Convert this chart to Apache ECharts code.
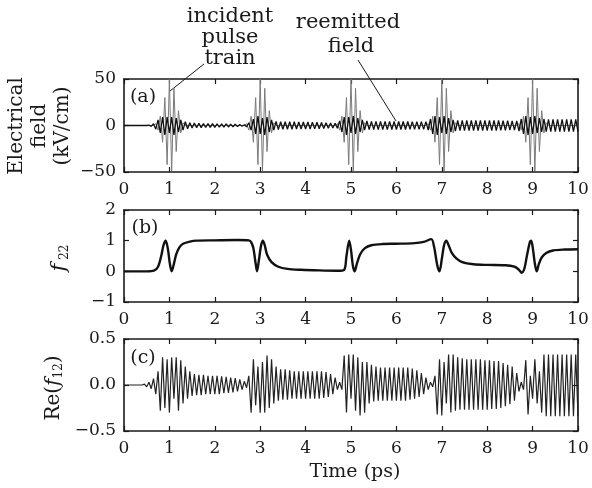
<!DOCTYPE html>
<html>
<head>
<meta charset="utf-8">
<script src="https://cdn.jsdelivr.net/npm/echarts@6/dist/echarts.min.js"></script>
<style>
  html, body { margin: 0; padding: 0; background: #fff; }
  #chart { width: 592px; height: 488px; }
</style>
</head>
<body>
<div id="chart"></div>
<script>
// time step (ps) between successive extrema of the sampled oscillations
const dt = 0.05;

// (a) incident pulse train: same pulse at each centre
const pulseCenters = [1, 3, 5, 7, 9];
const pulseOffsets = [-0.35, -0.3, -0.25, -0.2, -0.15, -0.1, -0.05, 0, 0.05, 0.1, 0.15, 0.2, 0.25, 0.3, 0.35];
const pulseShape = [0, 2, -5, 10, -18, 30, -42, 50, -49, 40, -28, 16, -8, 3, 0];

// (a) reemitted field (kV/cm), one value every dt
const reemitted = [
  0, 0, 0, 0, 0, 0, 0, 0, 0, 0, 0, 0.5, -1, 2, -4, 6, -8, 9, -10, 9,
  -8, 9, -10, 8, -7, 6, -5, 4, -3.5, 3, -2.8, 2.6, -2.5, 2.4, -2.3, 2.2, -2.2, 2.1, -2, 2,
  -2, 1.9, -1.9, 1.8, -1.8, 1.7, -1.6, 1.5, -1.4, 1.3, -1.2, 1, -0.8, 0.8, -1.5, 3, -5, 7, -9, 10,
  -9, 8, -10, 9, -7, 6, -5, 4.5, -4.5, 4, -4, 4, -4, 4, -4, 4, -3.8, 3.8, -3.8, 3.8,
  -3.8, 3.7, -3.7, 3.6, -3.6, 3.5, -3.4, 3.3, -3.2, 3, -3, 2.8, -2.6, 2.5, -3, 5, -7, 9, -10, 9,
  -8, 10, -9, 8, -7, 6, -5, 5, -4.5, 4.5, -4.5, 4.5, -4.5, 4.5, -4.4, 4.4, -4.4, 4.4, -4.3, 4.3,
  -4.3, 4.3, -4.3, 4.3, -4.3, 4.3, -4.2, 4.2, -4.2, 4.2, -4.2, 4.2, -4.2, 4.2, -5, 7, -9, 10, -10, 9,
  -8, 10, -9, 8, -7, 6, -6, 5.5, -5.5, 5.5, -5.5, 5.5, -5.5, 5.5, -5.5, 5.5, -5.5, 5.5, -5.5, 5.5,
  -5.5, 5.5, -5.5, 5.5, -5.5, 5.5, -5.3, 5.3, -5.2, 5.2, -5, 5, -5, 5, -6, 7, -9, 10, -10, 9,
  -9, 10, -8, 8, -7, 7, -6.5, 6.5, -6.5, 6.5, -6.5, 6.5, -6.5, 6.5, -6.5, 6.5, -6.5, 6.5, -6.5, 6.5,
  -6.5
];

// (b) f22 population
const tF = [0, 0.5, 0.66, 0.75, 0.82, 0.87, 0.92, 0.97, 1.01, 1.05, 1.1, 1.15, 1.22, 1.3, 1.45, 1.6, 2.0, 2.5, 2.75, 2.8,
  2.85, 2.9, 2.93, 2.97, 3.02, 3.06, 3.1, 3.15, 3.25, 3.4, 3.6, 3.9, 4.3, 4.7, 4.85, 4.9, 4.96, 5.0, 5.04, 5.08,
  5.13, 5.2, 5.3, 5.45, 5.7, 6.0, 6.4, 6.6, 6.77, 6.83, 6.9, 6.95, 7.0, 7.05, 7.1, 7.15, 7.22, 7.32, 7.45, 7.7,
  8.0, 8.4, 8.6, 8.7, 8.76, 8.82, 8.88, 8.94, 8.97, 9.01, 9.05, 9.09, 9.14, 9.2, 9.3, 9.45, 9.7, 10];
const fF = [0, 0, 0.02, 0.15, 0.5, 0.85, 1.0, 0.7, 0.25, 0.0, 0.25, 0.55, 0.78, 0.9, 0.97, 1.0, 1.01, 1.02, 1.01, 0.95,
  0.75, 0.25, 0.0, 0.35, 0.85, 1.0, 0.85, 0.55, 0.3, 0.15, 0.08, 0.05, 0.03, 0.02, 0.05, 0.5, 1.0, 0.7, 0.2, 0.0,
  0.25, 0.55, 0.75, 0.85, 0.89, 0.9, 0.92, 0.96, 1.05, 0.8, 0.2, 0.0, 0.4, 0.85, 1.0, 0.85, 0.6, 0.42, 0.3, 0.23,
  0.21, 0.2, 0.15, 0.05, -0.05, 0.1, 0.55, 0.95, 1.0, 0.7, 0.25, 0.0, 0.25, 0.45, 0.6, 0.68, 0.71, 0.72];

// (c) Re(f12), one value every dt
const reF12 = [
  0, 0, 0, 0, 0, 0, 0, 0, 0, 0.01, -0.02, 0.03, -0.04, 0.07, -0.1, 0.15, -0.28, 0.3, -0.25, 0.28,
  -0.3, 0.3, -0.15, 0.3, -0.28, 0.27, -0.2, 0.2, -0.15, 0.15, -0.12, 0.12, -0.11, 0.11, -0.11, 0.11, -0.1, 0.1, -0.1, 0.1,
  -0.1, 0.1, -0.1, 0.095, -0.09, 0.09, -0.085, 0.08, -0.08, 0.075, -0.07, 0.06, -0.05, 0.04, -0.03, 0.1, -0.3, 0.28, -0.22, 0.2,
  -0.3, 0.25, -0.3, 0.32, -0.25, 0.28, -0.2, 0.2, -0.17, 0.17, -0.16, 0.17, -0.16, 0.16, -0.15, 0.15, -0.15, 0.15, -0.15, 0.15,
  -0.15, 0.15, -0.15, 0.15, -0.15, 0.15, -0.15, 0.15, -0.14, 0.14, -0.13, 0.12, -0.1, 0.08, -0.05, 0.03, -0.05, 0.32, -0.3, 0.33,
  -0.15, 0.33, -0.28, 0.3, -0.33, 0.25, -0.3, 0.25, -0.2, 0.22, -0.18, 0.2, -0.17, 0.19, -0.17, 0.19, -0.17, 0.19, -0.17, 0.19,
  -0.17, 0.19, -0.17, 0.19, -0.17, 0.19, -0.16, 0.18, -0.15, 0.16, -0.13, 0.13, -0.1, 0.08, -0.05, 0.03, -0.02, 0.1, -0.32, 0.28,
  -0.33, 0.25, -0.2, 0.33, -0.3, 0.33, -0.28, 0.3, -0.27, 0.29, -0.27, 0.28, -0.27, 0.28, -0.27, 0.28, -0.27, 0.28, -0.27, 0.27,
  -0.27, 0.27, -0.26, 0.26, -0.26, 0.26, -0.25, 0.24, -0.23, 0.22, -0.21, 0.2, -0.17, 0.13, -0.07, 0.03, -0.05, 0.27, -0.32, 0.1,
  -0.15, 0.28, -0.2, 0.15, -0.3, 0.33, -0.34, 0.33, -0.34, 0.33, -0.34, 0.33, -0.34, 0.33, -0.34, 0.33, -0.34, 0.33, -0.34, 0.33,
  -0.34
];

const FONT = 'DejaVu Serif';
const INK = '#1a1a1a';

// build series data
let pulseData = [[0, 0]];
pulseCenters.forEach((c) => {
  for (let k = 0; k < pulseOffsets.length; k++) {
    pulseData.push([c + pulseOffsets[k], pulseShape[k]]);
  }
});
pulseData.push([10, 0]);
const reemData = reemitted.map((v, i) => [i * dt, v]);
const f22Data = tF.map((t, i) => [t, fF[i]]);
const f12Data = reF12.map((v, i) => [i * dt, v]);

const minus = (s) => String(s).replace('-', '\u2212');

const grids = [
  {left: 124, top: 79, width: 454, height: 93},
  {left: 124, top: 210, width: 454, height: 92},
  {left: 124, top: 339, width: 454, height: 92}
];
const yRanges = [
  {min: -50, max: 50, interval: 50, fmt: (v) => minus(v)},
  {min: -1, max: 2, interval: 1, fmt: (v) => minus(v)},
  {min: -0.5, max: 0.5, interval: 0.5, fmt: (v) => minus(v.toFixed(1))}
];

const lineStyle = {color: INK, width: 1.6};
const tickStyle = {show: true, inside: true, length: 5, lineStyle: {color: INK, width: 1.2}};
const labelStyle = {fontFamily: FONT, fontSize: 17, color: INK};

let xAxis = [], yAxis = [];
grids.forEach((g, i) => {
  xAxis.push({
    type: 'value', gridIndex: i, min: 0, max: 10, interval: 1, position: 'bottom',
    axisLine: {onZero: false, lineStyle: lineStyle}, axisTick: tickStyle, splitLine: {show: false},
    axisLabel: Object.assign({margin: 9}, labelStyle)
  });
  xAxis.push({
    type: 'value', gridIndex: i, min: 0, max: 10, interval: 1, position: 'top',
    axisLine: {onZero: false, lineStyle: lineStyle}, axisTick: tickStyle, splitLine: {show: false},
    axisLabel: {show: false}
  });
  const r = yRanges[i];
  yAxis.push({
    type: 'value', gridIndex: i, min: r.min, max: r.max, interval: r.interval, position: 'left',
    axisLine: {show: true, onZero: false, lineStyle: lineStyle}, axisTick: tickStyle, splitLine: {show: false},
    axisLabel: Object.assign({margin: 8, formatter: r.fmt}, labelStyle)
  });
  yAxis.push({
    type: 'value', gridIndex: i, min: r.min, max: r.max, interval: r.interval, position: 'right',
    axisLine: {show: true, onZero: false, lineStyle: lineStyle}, axisTick: tickStyle, splitLine: {show: false},
    axisLabel: {show: false}
  });
});

const txt = (x, y, text, size, extra) => Object.assign({
  type: 'text', x: x, y: y, silent: true,
  style: {text: text, fontFamily: FONT, fontSize: size, fill: INK, textAlign: 'center', textVerticalAlign: 'middle'}
}, extra || {});

const option = {
  animation: false,
  backgroundColor: '#fff',
  grid: grids,
  xAxis: xAxis,
  yAxis: yAxis,
  series: [
    {
      name: 'incident', type: 'line', xAxisIndex: 0, yAxisIndex: 0, data: pulseData,
      showSymbol: false, lineStyle: {color: '#7a7a7a', width: 1}, z: 2
    },
    {
      name: 'reemitted', type: 'line', xAxisIndex: 0, yAxisIndex: 0, data: reemData,
      showSymbol: false, lineStyle: {color: '#111', width: 1.3}, z: 3
    },
    {
      name: 'f22', type: 'line', xAxisIndex: 2, yAxisIndex: 2, data: f22Data, smooth: 0.3,
      showSymbol: false, lineStyle: {color: '#111', width: 2.4}
    },
    {
      name: 'f12', type: 'line', xAxisIndex: 4, yAxisIndex: 4, data: f12Data,
      showSymbol: false, lineStyle: {color: '#222', width: 1.2}
    }
  ],
  graphic: [
    // y axis titles
    txt(17, 126, 'Electrical', 20, {rotation: Math.PI / 2}),
    txt(40, 126, 'field', 20, {rotation: Math.PI / 2}),
    txt(63, 126, '(kV/cm)', 20, {rotation: Math.PI / 2}),
    {
      type: 'text', x: 60, y: 258, rotation: Math.PI / 2, silent: true,
      style: {
        text: '{f|f}{s| 22}', textAlign: 'center', textVerticalAlign: 'middle', fill: INK,
        rich: {
          f: {fontFamily: FONT, fontStyle: 'italic', fontSize: 21, fill: INK},
          s: {fontFamily: FONT, fontSize: 12, fill: INK, verticalAlign: 'bottom', padding: [10, 0, 0, 0]}
        }
      }
    },
    {
      type: 'text', x: 54, y: 388, rotation: Math.PI / 2, silent: true,
      style: {
        text: '{n|Re(}{f|f}{s|12}{n|)}', textAlign: 'center', textVerticalAlign: 'middle', fill: INK,
        rich: {
          n: {fontFamily: FONT, fontSize: 20, fill: INK},
          f: {fontFamily: FONT, fontStyle: 'italic', fontSize: 20, fill: INK},
          s: {fontFamily: FONT, fontSize: 12, fill: INK, verticalAlign: 'bottom', padding: [9, 0, 0, 0]}
        }
      }
    },
    // panel tags
    txt(143, 97, '(a)', 19),
    txt(145, 228, '(b)', 19),
    txt(143, 358, '(c)', 19),
    // x axis title
    txt(355, 472, 'Time (ps)', 19),
    // annotations
    txt(230, 17, 'incident', 21),
    txt(230, 38, 'pulse', 21),
    txt(230, 59, 'train', 21),
    txt(348, 23, 'reemitted', 21),
    txt(351, 47, 'field', 21),
    {type: 'line', silent: true, shape: {x1: 204, y1: 64, x2: 170, y2: 91}, style: {stroke: INK, lineWidth: 1}},
    {type: 'line', silent: true, shape: {x1: 358, y1: 60, x2: 396, y2: 121}, style: {stroke: INK, lineWidth: 1}}
  ]
};

const chart = echarts.init(document.getElementById('chart'), null, {renderer: 'canvas'});
chart.setOption(option);
</script>
</body>
</html>
